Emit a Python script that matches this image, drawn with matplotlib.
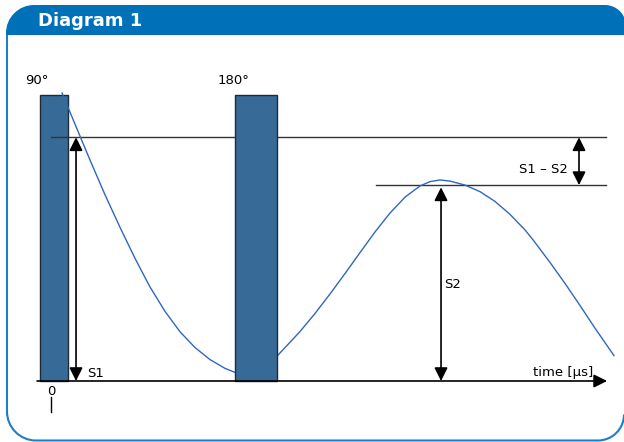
import matplotlib
matplotlib.use("Agg")
import matplotlib.pyplot as plt
from matplotlib.path import Path
from matplotlib.patches import PathPatch

# Spin-echo sequence: pulse timing (in units of tau) and relative amplitude
pulse_labels = ["90°", "180°"]
pulse_times = [0.0, 1.0]
pulse_widths = [0.139, 0.208]
pulse_heights = [1.0, 1.0]

# Signal trace (FID decay, then refocused echo)
signal_t = [0.040, 0.104, 0.178, 0.252, 0.327, 0.401, 0.475, 0.550, 0.624,
            0.698, 0.772, 0.847, 0.921, 1.000, 1.069, 1.104, 1.144, 1.218,
            1.292, 1.366, 1.441, 1.515, 1.589, 1.663, 1.738, 1.812, 1.861,
            1.911, 1.960, 2.035, 2.109, 2.183, 2.257, 2.332, 2.371, 2.455,
            2.530, 2.604, 2.678, 2.772]
signal_a = [1.007, 0.898, 0.773, 0.652, 0.537, 0.429, 0.329, 0.243, 0.172,
            0.117, 0.075, 0.044, 0.023, 0.017, 0.066, 0.087, 0.117, 0.173,
            0.236, 0.304, 0.376, 0.449, 0.521, 0.587, 0.643, 0.682, 0.697,
            0.703, 0.699, 0.685, 0.662, 0.628, 0.583, 0.528, 0.494, 0.415,
            0.341, 0.264, 0.185, 0.089]

# Signal levels
S1 = 0.852
S2 = 0.685

W, H = 624, 442
fig = plt.figure(figsize=(W / 100, H / 100), dpi=100)

# ---- panel frame, drawn in pixel coordinates ----
frame = fig.add_axes([0, 0, 1, 1])
frame.set_xlim(0, W)
frame.set_ylim(H, 0)
frame.axis("off")

BLUE = "#0071b9"
# header bar with rounded top corners
r1, r2 = 28, 21
top, bot, left, right = 5, 35, 6, 626
k = 0.5523
hdr = Path(
    [(left, bot), (left, top + r1),
     (left, top + r1 - k * r1), (left + r1 - k * r1, top), (left + r1, top),
     (right - r2, top),
     (right - r2 + k * r2, top), (right, top + r2 - k * r2), (right, top + r2),
     (right, bot), (left, bot)],
    [Path.MOVETO, Path.LINETO,
     Path.CURVE4, Path.CURVE4, Path.CURVE4,
     Path.LINETO,
     Path.CURVE4, Path.CURVE4, Path.CURVE4,
     Path.LINETO, Path.CLOSEPOLY])
frame.add_patch(PathPatch(hdr, facecolor=BLUE, edgecolor="none", zorder=1))

# outline of the panel body
bx, by, rb, rr = 7, 440.5, 29, 26
bx2 = 624
body = Path(
    [(bx, bot), (bx, by - rb),
     (bx, by - rb + k * rb), (bx + rb - k * rb, by), (bx + rb, by),
     (bx2 - rr, by),
     (bx2 - rr + k * rr, by), (bx2, by - rr + k * rr), (bx2, by - rr)],
    [Path.MOVETO, Path.LINETO,
     Path.CURVE4, Path.CURVE4, Path.CURVE4,
     Path.LINETO,
     Path.CURVE4, Path.CURVE4, Path.CURVE4])
frame.add_patch(PathPatch(body, facecolor="none", edgecolor="#1b7fca",
                          lw=1.5, zorder=1))

frame.text(38, 21, "Diagram 1", color="white", fontsize=13,
           fontweight="bold", ha="left", va="center", family="DejaVu Sans")

# ---- diagram axes: time in units of tau, amplitude relative to pulse ----
x0_px, tau_px = 54, 202
y0_px, amp_px = 381, 286
ax = fig.add_axes([0, 0, 1, 1])
ax.set_xlim((0 - x0_px) / tau_px, (W - x0_px) / tau_px)
ax.set_ylim((y0_px - H) / amp_px, y0_px / amp_px)
ax.axis("off")
ax.patch.set_alpha(0)

bars = ax.bar(pulse_times, pulse_heights, width=pulse_widths,
              color="#386a98", edgecolor="#1d2a38", lw=1.0)
bars[0].set_zorder(1)
bars[1].set_zorder(4)

ax.plot(signal_t, signal_a, color="#2f67c0", lw=1.0, zorder=3)

t_end = 2.733
ax.plot([-0.015, t_end], [S1, S1], color="#333333", lw=1.0, zorder=2)
ax.plot([1.594, t_end], [S2, S2], color="#333333", lw=1.0, zorder=2)

# time axis
ax.annotate("", xy=(2.738, 0), xytext=(-0.084, 0),
            arrowprops=dict(arrowstyle="-|>", color="black", lw=1.2,
                            shrinkA=0, shrinkB=0, mutation_scale=20),
            zorder=6)

def dim_arrow(t, a_lo, a_hi):
    ax.annotate("", xy=(t, a_hi), xytext=(t, a_lo),
                arrowprops=dict(arrowstyle="<|-|>", color="black", lw=1.2,
                                shrinkA=0, shrinkB=0, mutation_scale=20),
                zorder=6)

dim_arrow(0.109, 0.0, S1)
dim_arrow(1.916, 0.0, S2 - 0.008)
dim_arrow(2.599, S2, S1)

fs = 9.5
ax.text(0.163, 0.015, "S1", fontsize=fs, ha="left", va="baseline")
ax.text(1.930, 0.325, "S2", fontsize=fs, ha="left", va="baseline")
ax.text(2.545, 0.740, "S1 – S2", fontsize=fs, ha="right", va="center")
ax.text(2.668, 0.017, "time [µs]", fontsize=fs, ha="right", va="baseline")

ax.text(-0.144, 1.038, pulse_labels[0], fontsize=fs, ha="left", va="baseline")
ax.text(0.812, 1.038, pulse_labels[1], fontsize=fs, ha="left", va="baseline")

# time origin marker
ax.text(pulse_times[0] - 0.015, -0.015, "0", fontsize=fs, ha="center", va="top")
ax.plot([-0.015, -0.015], [-0.055, -0.108], color="black", lw=1.0)

fig.savefig("out.png", dpi=100)
